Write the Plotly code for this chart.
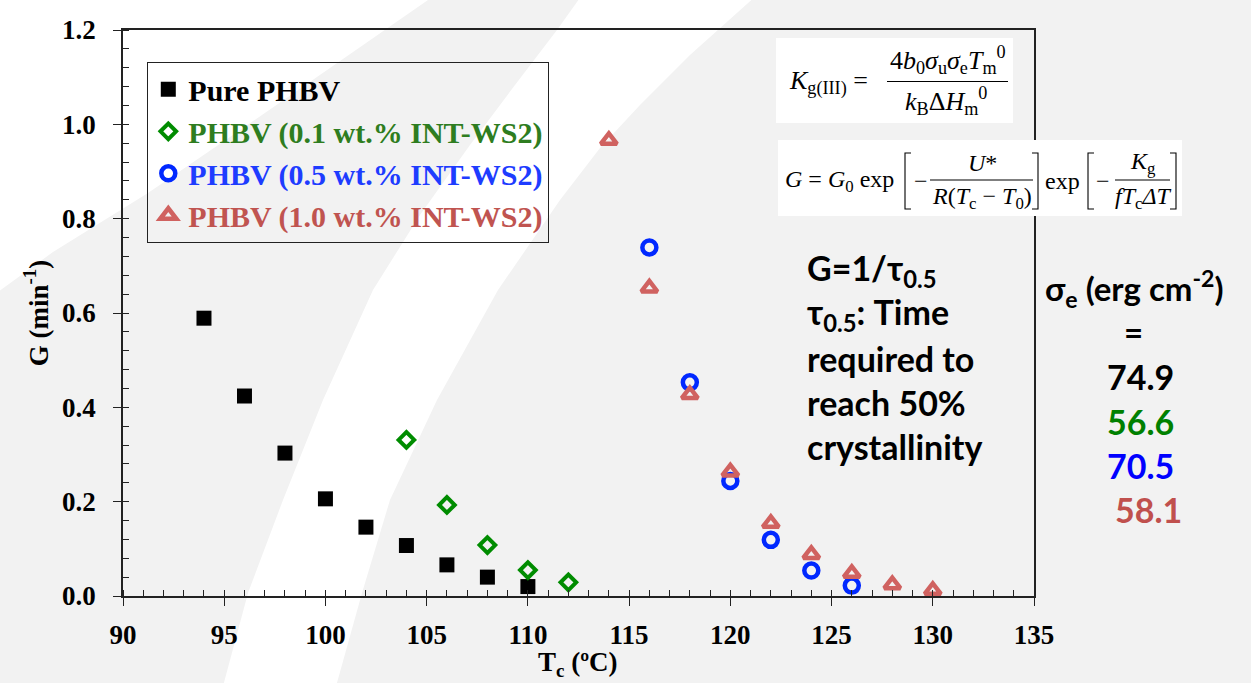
import plotly.graph_objects as go

# ---------------- data ----------------
T_pure = [94, 96, 98, 100, 102, 104, 106, 108, 110]
G_pure = [0.589, 0.424, 0.303, 0.206, 0.146, 0.107, 0.066, 0.040, 0.020]

T_01 = [104, 106, 108, 110, 112]
G_01 = [0.331, 0.193, 0.108, 0.055, 0.029]

T_05 = [116, 118, 120, 122, 124, 126]
G_05 = [0.739, 0.453, 0.244, 0.119, 0.054, 0.022]

T_10 = [114, 116, 118, 120, 122, 124, 126, 128, 130]
G_10 = [0.966, 0.653, 0.427, 0.263, 0.154, 0.088, 0.048, 0.024, 0.012]

series_names = ["Pure PHBV", "PHBV (0.1 wt.% INT-WS2)",
                "PHBV (0.5 wt.% INT-WS2)", "PHBV (1.0 wt.% INT-WS2)"]
sigma_values = ["74.9", "56.6", "70.5", "58.1"]

x_ticks = [90, 95, 100, 105, 110, 115, 120, 125, 130, 135]
y_ticks = [0.0, 0.2, 0.4, 0.6, 0.8, 1.0, 1.2]

x_title = "T<sub>c</sub> (ºC)"
y_title = "G (min<sup>-1</sup>)"

# ---------------- layout geometry ----------------
W, H = 1251, 683
ML, MR, MT, MB = 123, 217, 30, 87
PW, PH = W - ML - MR, H - MT - MB


def px(x):
    return (x - ML) / PW


def py(y):
    return (H - MB - y) / PH


SERIF = "Liberation Serif"
SANS = "Lato"

fig = go.Figure()

fig.add_trace(go.Scatter(
    x=T_pure, y=G_pure, mode="markers", name=series_names[0],
    marker=dict(symbol="square", size=15, color="black", line=dict(width=0))))
fig.add_trace(go.Scatter(
    x=T_01, y=G_01, mode="markers",
    name='<span style="color:rgb(46,125,32)">' + series_names[1] + "</span>",
    marker=dict(symbol="diamond-open", size=12, color="rgb(0,140,0)",
                line=dict(width=4, color="rgb(0,140,0)"))))
fig.add_trace(go.Scatter(
    x=T_05, y=G_05, mode="markers",
    name='<span style="color:rgb(30,60,255)">' + series_names[2] + "</span>",
    marker=dict(symbol="circle-open", size=14, color="rgb(0,40,255)",
                line=dict(width=4.5, color="rgb(0,40,255)"))))
fig.add_trace(go.Scatter(
    x=T_10, y=G_10, mode="markers",
    name='<span style="color:rgb(192,84,80)">' + series_names[3] + "</span>",
    marker=dict(symbol="triangle-up-open", size=14, color="rgb(208,98,96)",
                line=dict(width=4.5, color="rgb(208,98,96)"))))
# dummy trace for the overlay axes (inner half of the major ticks)
fig.add_trace(go.Scatter(x=[None], y=[None], xaxis="x2", yaxis="y2",
                         showlegend=False, hoverinfo="skip"))

# ---------------- background (slide decoration) ----------------
def path_from(points):
    return "M " + " L ".join(f"{px(a):.5f},{py(b):.5f}" for a, b in points) + " Z"


top_left = [(-5, -5), (428, -5), (428, 0), (330, 68), (230, 137), (148, 193),
            (53, 252), (-5, 294)]
band = [(582, -5), (557, 30), (515, 85), (470, 145), (420, 215), (373, 290),
        (323, 400), (283, 500), (248, 593), (222, 690),
        (335, 690), (362, 593), (390, 500), (437, 400), (498, 290),
        (560, 200), (600, 148), (640, 105), (690, 55), (757, -5)]

shapes = []
for pts in (top_left, band):
    shapes.append(dict(type="path", xref="paper", yref="paper", path=path_from(pts),
                       fillcolor="white", line=dict(width=0), layer="below"))


def rect(x0, y0, x1, y1):
    return dict(type="rect", xref="paper", yref="paper",
                x0=px(x0), x1=px(x1), y0=py(y1), y1=py(y0),
                fillcolor="white", line=dict(width=0), layer="above")


def hline(x0, x1, y, w=1.2):
    return dict(type="line", xref="paper", yref="paper",
                x0=px(x0), x1=px(x1), y0=py(y), y1=py(y),
                line=dict(color="black", width=w), layer="above")


def bracket(x, y0, y1, side):
    d = 6 if side == "left" else -6
    pts = f"M {px(x + d):.5f},{py(y0):.5f} L {px(x):.5f},{py(y0):.5f} " \
          f"L {px(x):.5f},{py(y1):.5f} L {px(x + d):.5f},{py(y1):.5f}"
    return dict(type="path", xref="paper", yref="paper", path=pts,
                line=dict(color="black", width=1.1), layer="above")


shapes += [rect(776, 38, 1013, 123), rect(778, 140, 1182, 216)]
shapes += [hline(887, 1008, 81.5),
           hline(930, 1033, 180), hline(1115, 1170, 180),
           bracket(905, 153, 209, "left"), bracket(1038, 153, 209, "right"),
           bracket(1088, 153, 209, "left"), bracket(1176, 153, 209, "right")]

# ---------------- annotations ----------------
ann = []


def add_text(text, x, y, size, color="black", family=SERIF, anchor="left",
             weight="normal", angle=0):
    ann.append(dict(text=text, xref="paper", yref="paper", x=px(x), y=py(y),
                    xanchor=anchor, yanchor="middle", showarrow=False, textangle=angle,
                    font=dict(family=family, size=size, color=color, weight=weight)))


# x-axis title
add_text(x_title, 578, 664, 27, anchor="center", weight="bold")

# equation 1
add_text("<i>K</i><sub>g(III)</sub> =", 787, 82, 26)
add_text("4<i>b</i><sub>0</sub><i>σ</i><sub>u</sub><i>σ</i><sub>e</sub><i>T</i><sub>m</sub><sup>0</sup>",
         948, 60, 26, anchor="center")
add_text("<i>k</i><sub>B</sub>Δ<i>H</i><sub>m</sub><sup>0</sup>", 946, 101, 26, anchor="center")

# equation 2
add_text("<i>G</i> = <i>G</i><sub>0</sub> exp", 783, 181, 24)
add_text("−", 912, 181, 24)
add_text("<i>U</i>*", 982, 163, 24, anchor="center")
add_text("<i>R</i>(<i>T</i><sub>c</sub> − <i>T</i><sub>0</sub>)", 982, 198, 24, anchor="center")
add_text("exp", 1043, 181, 24)
add_text("−", 1094, 181, 24)
add_text("<i>K</i><sub>g</sub>", 1143, 163, 24, anchor="center")
add_text("<i>fT</i><sub>c</sub><i>ΔT</i>", 1143, 198, 24, anchor="center")

# explanation text
expl = ["G=1/τ<sub>0.5</sub>", "τ<sub>0.5</sub>: Time", "required to",
        "reach 50%", "crystallinity"]
expl_y = [270, 314, 358, 402, 446]
for t, yy in zip(expl, expl_y):
    add_text(t, 805, yy, 34, family=SANS, weight="bold")

# sigma column
add_text("σ<sub>e</sub> (erg cm<sup>-2</sup>)", 1134, 288, 33, family=SANS,
         anchor="center", weight="bold")
add_text("=", 1133, 332, 33, family=SANS, anchor="center", weight="bold")
sig_colors = ["black", "rgb(0,128,0)", "rgb(0,0,255)", "rgb(192,80,77)"]
sig_x = [1140, 1140, 1140, 1148]
sig_y = [376, 421, 465, 509]
for v, c, xx, yy in zip(sigma_values, sig_colors, sig_x, sig_y):
    add_text(v, xx, yy, 34, color=c, family=SANS, anchor="center", weight="bold")

# ---------------- axes ----------------
tick_font = dict(family=SERIF, size=27, color="black", weight="bold")
title_font = dict(family=SERIF, size=27, color="black", weight="bold")

fig.update_layout(
    width=W, height=H,
    margin=dict(l=ML, r=MR, t=MT, b=MB, pad=0, autoexpand=False),
    paper_bgcolor="rgb(242,242,242)",
    plot_bgcolor="rgba(0,0,0,0)",
    font=dict(family=SERIF, color="black"),
    showlegend=True,
    legend=dict(x=px(147), y=py(62), xanchor="left", yanchor="top",
                bgcolor="rgba(0,0,0,0)", bordercolor="#222", borderwidth=1.3,
                font=dict(family=SERIF, size=30, color="black", weight="bold"),
                itemsizing="trace", tracegroupgap=0),
    xaxis=dict(range=[90, 135], tickvals=x_ticks, ticktext=[str(v) for v in x_ticks],
               showgrid=False, zeroline=False, automargin=False,
               showline=True, linecolor="#222", linewidth=1.5, mirror=True,
               ticks="outside", ticklen=8, tickwidth=1.3, tickcolor="#222",
               minor=dict(dtick=1, ticks="inside", ticklen=6, tickwidth=1.1,
                          tickcolor="#222", showgrid=False),
               tickfont=tick_font, ticklabelstandoff=6),
    yaxis=dict(range=[0, 1.2], tickvals=y_ticks, ticktext=[f"{v:.1f}" for v in y_ticks],
               showgrid=False, zeroline=False, automargin=False,
               showline=True, linecolor="#222", linewidth=1.5, mirror=True,
               ticks="outside", ticklen=8, tickwidth=1.3, tickcolor="#222",
               minor=dict(dtick=0.04, ticks="inside", ticklen=6, tickwidth=1.1,
                          tickcolor="#222", showgrid=False),
               tickfont=tick_font, ticklabelstandoff=12,
               title=dict(text=y_title, font=title_font, standoff=6)),
    xaxis2=dict(range=[90, 135], overlaying="x", anchor="y2", side="bottom",
                tickvals=x_ticks, showticklabels=False, showgrid=False, zeroline=False,
                showline=False, ticks="inside", ticklen=6, tickwidth=1.3,
                tickcolor="#222", automargin=False),
    yaxis2=dict(range=[0, 1.2], overlaying="y", anchor="x2", side="left",
                tickvals=y_ticks, showticklabels=False, showgrid=False, zeroline=False,
                showline=False, ticks="inside", ticklen=6, tickwidth=1.3,
                tickcolor="#222", automargin=False),
    shapes=shapes,
    annotations=ann,
)

fig.write_html("out.html",
               config={"displayModeBar": False},
               post_script="document.body.style.margin='0';"
                           "document.body.style.background='rgb(242,242,242)';"
                           "document.documentElement.style.overflow='hidden';")
